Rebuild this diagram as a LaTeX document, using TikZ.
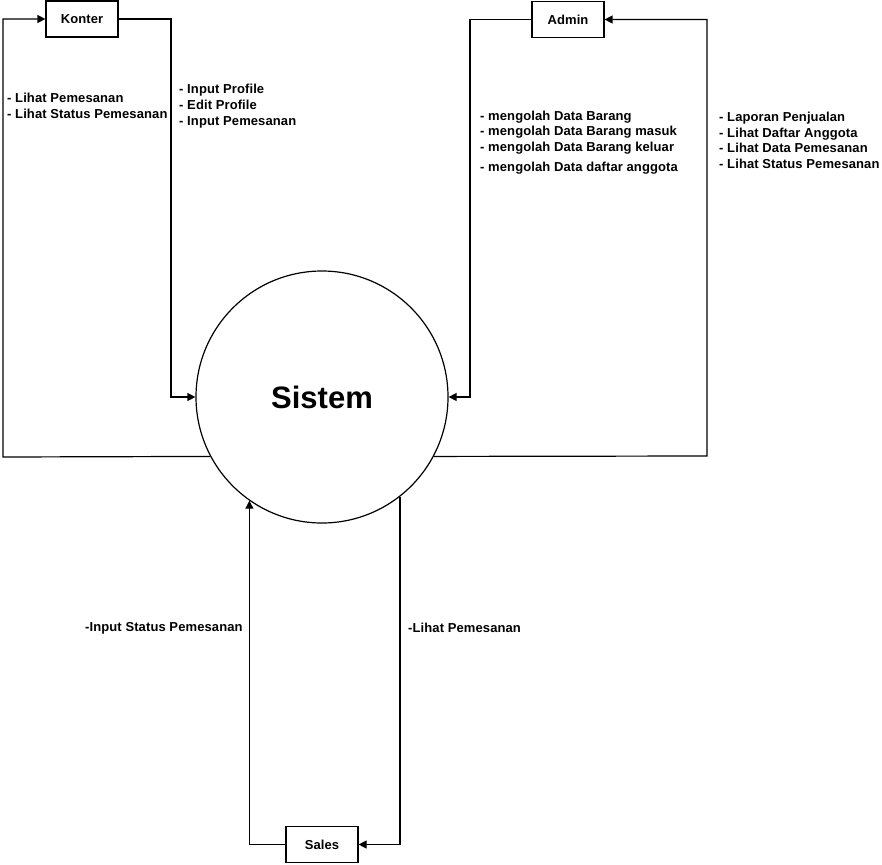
\documentclass[tikz,border=0pt]{standalone}
\usepackage{fontspec}
\setmainfont{Liberation Sans}
\newfontfamily\lblfont[LetterSpace=0.8]{Liberation Sans}
\usetikzlibrary{arrows.meta}
\tikzset{
  lbl/.style={font=\lblfont\bfseries\fontsize{13}{15.7}\selectfont, anchor=west, align=left, inner sep=0pt},
  entity/.style={draw, line width=1.2pt, minimum width=72pt, minimum height=36pt, inner sep=0pt, font=\lblfont\bfseries\fontsize{13}{14}\selectfont},
  proc/.style={draw, circle, line width=1.2pt, minimum size=252pt, inner sep=0pt, font=\bfseries\fontsize{31}{36}\selectfont},
  flow/.style={line width=1.2pt, -{Triangle[length=8pt,width=8pt]}}
}
\begin{document}
\begin{tikzpicture}[x=1pt,y=-1pt]
\useasboundingbox (0,0) rectangle (882,864);
\node[proc] (sys) at (322,397) {Sistem};
\node[entity] (konter) at (82,19) {Konter};
\node[entity] (admin) at (568,19.5) {Admin};
\node[entity] (sales) at (322,844.5) {Sales};
\coordinate (k1) at (3,457);
\coordinate (k2) at (171,397);
\coordinate (a1) at (707,456);
\coordinate (a2) at (470,397);
% Sistem -> Konter
\draw[flow] (sys.208.4) -- (k1) |- (konter.west);
% Konter -> Sistem
\draw[flow] (konter.east) -| (k2) -- (sys.west);
% Admin -> Sistem
\draw[flow] (admin.west) -| (a2) -- (sys.east);
% Sistem -> Admin
\draw[flow] (sys.332) -- (a1) |- (admin.east);
% Sales -> Sistem
\draw[flow] (sales.west) -| (sys.235);
% Sistem -> Sales
\draw[flow] (sys.308.2) |- (sales.east);
% labels
\node[lbl] (t1) at (7,106) {- Lihat Pemesanan\\- Lihat Status Pemesanan};
\node[lbl] (t2) at (179,106) {- Input Profile\\- Edit Profile\\- Input Pemesanan};
\node[lbl] (t3) at (480,142.5) {- mengolah Data Barang\\- mengolah Data Barang masuk\\- mengolah Data Barang keluar\\[4pt]- mengolah Data daftar anggota};
\node[lbl] (t4) at (719,140.5) {- Laporan Penjualan\\- Lihat Daftar Anggota\\- Lihat Data Pemesanan\\- Lihat Status Pemesanan};
\node[lbl] (t5) at (85,628) {-Input Status Pemesanan};
\node[lbl] (t6) at (408,628) {-Lihat Pemesanan};
\end{tikzpicture}
\end{document}
